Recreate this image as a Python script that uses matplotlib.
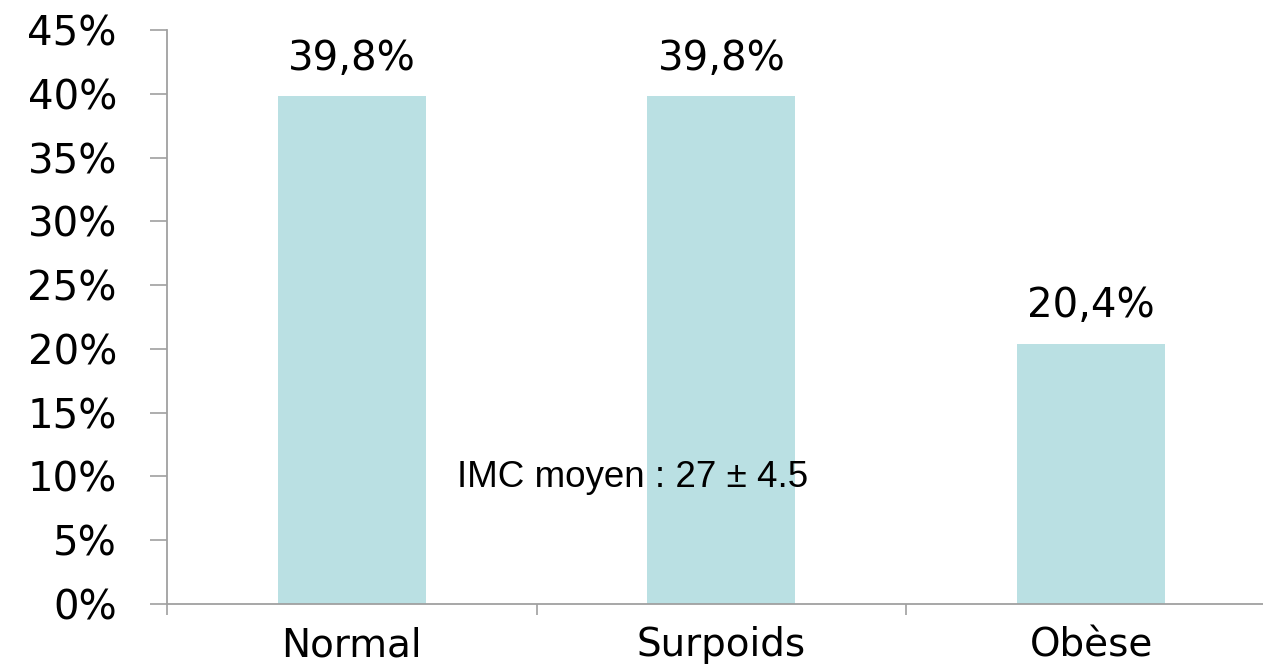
# Répartition des patients selon l'IMC (bar chart, one bar per category).

import matplotlib.pyplot as plt
from matplotlib.ticker import FixedLocator, PercentFormatter

categories = ["Normal", "Surpoids", "Obèse"]
values = [39.8, 39.8, 20.4]
value_labels = ["39,8%", "39,8%", "20,4%"]
y_ticks = [0, 5, 10, 15, 20, 25, 30, 35, 40, 45]
note = "IMC moyen : 27 ± 4.5"

BAR_COLOR = "#bae0e3"
AXIS_COLOR = "#a0a0a0"


def main():
    fig = plt.figure(figsize=(12.63, 6.65), dpi=100)
    # the axis runs a little past the right edge of the figure
    ax = fig.add_axes([0.1322, 0.0917, 0.878, 0.8632])

    x = list(range(len(categories)))
    ax.bar(x, values, width=0.4, color=BAR_COLOR, zorder=2)

    for xi, v, lab in zip(x, values, value_labels):
        ax.annotate(lab, (xi, v), xytext=(0, 19), textcoords="offset points",
                    ha="center", va="baseline", fontsize=29,
                    family="DejaVu Sans", color="black")

    ax.text(0.285, 9.9, note, ha="left", va="center", fontsize=26.5,
            family="Liberation Sans", color="black", zorder=3)

    ax.set_xlim(-0.5, len(categories) - 0.5)
    ax.set_ylim(0, 45)
    ax.set_yticks(y_ticks)
    ax.yaxis.set_major_formatter(PercentFormatter(decimals=0))

    ax.set_xticks(x)
    ax.set_xticklabels(categories)
    ax.xaxis.set_minor_locator(FixedLocator([i - 0.5 for i in range(len(categories) + 1)]))

    ax.tick_params(axis="x", which="major", length=0, pad=16, labelsize=28)
    ax.tick_params(axis="x", which="minor", length=8, width=1.2,
                   color=AXIS_COLOR, direction="out")
    ax.tick_params(axis="y", length=12, width=1.2, color=AXIS_COLOR,
                   pad=24, labelsize=29)
    for lab in ax.get_xticklabels() + ax.get_yticklabels():
        lab.set_family("DejaVu Sans")

    for side in ("top", "right"):
        ax.spines[side].set_visible(False)
    for side in ("left", "bottom"):
        ax.spines[side].set_color(AXIS_COLOR)
        ax.spines[side].set_linewidth(1.3)

    fig.savefig("out.png", dpi=100)


if __name__ == "__main__":
    main()
